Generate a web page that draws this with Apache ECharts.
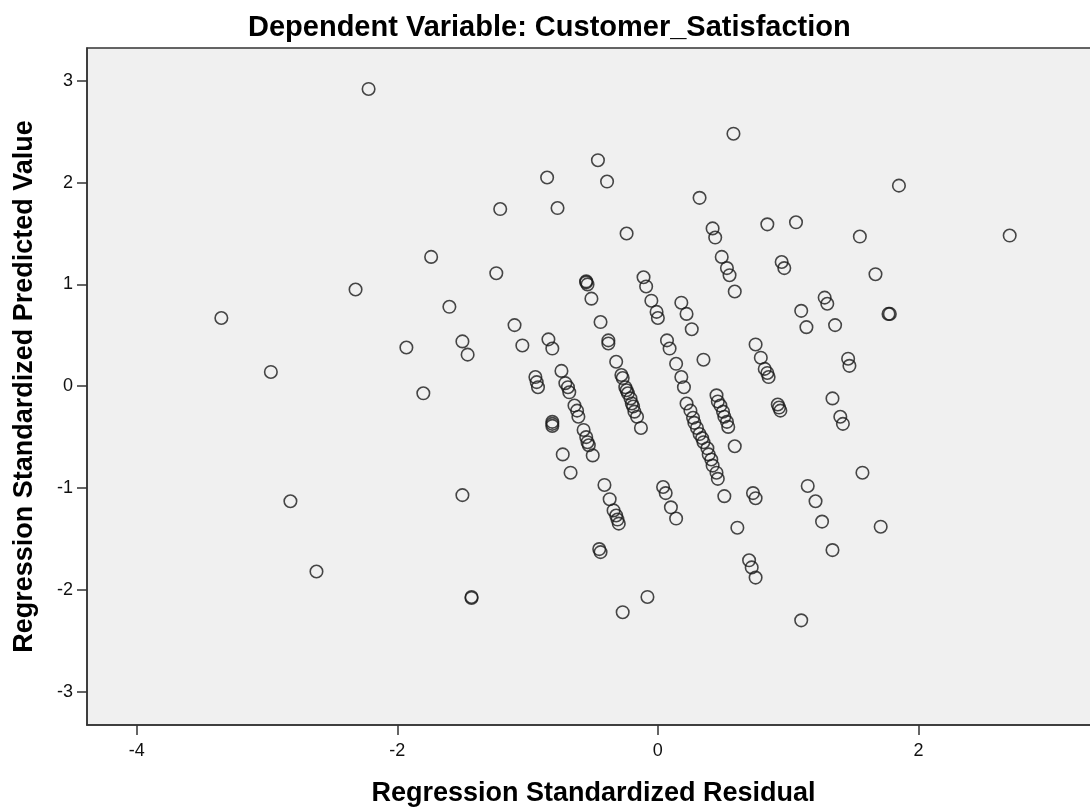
<!DOCTYPE html>
<html>
<head>
<meta charset="utf-8">
<script src="https://cdn.jsdelivr.net/npm/echarts@6/dist/echarts.min.js"></script>
<style>
html,body{margin:0;padding:0;background:#fff;}
#chart{width:1090px;height:807px;}
</style>
</head>
<body>
<div id="chart"></div>
<script>
// Regression Standardized Residual (x) and Regression Standardized Predicted Value (y)
var residual = [
  -3.35,-2.97,-2.82,-2.62,-2.32,-2.22,-1.93,-1.80,-1.74,-1.60,-1.50,-1.46,-1.50,-1.43,-1.43,-1.24,-1.21,-1.10,-1.04,-0.85,-0.77,-0.46,-0.39,-0.24,
  -0.94,-0.93,-0.92,-0.81,-0.81,-0.81,-0.73,-0.67,-0.45,-0.44,-0.27,
  -0.84,-0.81,-0.74,-0.71,-0.69,-0.68,-0.64,-0.62,-0.61,-0.57,-0.55,-0.54,-0.53,-0.50,-0.41,-0.37,-0.34,-0.32,-0.31,-0.30,
  -0.55,-0.54,-0.55,-0.51,-0.44,-0.38,-0.38,-0.32,-0.28,-0.27,-0.25,-0.24,-0.23,-0.21,-0.20,-0.19,-0.18,-0.16,-0.13,0.04,0.06,0.10,0.14,-0.08,
  -0.11,-0.09,-0.05,-0.01,0.00,0.07,0.09,0.14,0.18,0.20,0.22,0.25,0.27,0.28,0.30,0.32,0.34,0.35,0.38,0.39,0.41,0.42,0.45,0.46,0.51,0.61,0.70,0.72,0.75,
  0.32,0.42,0.44,0.49,0.53,0.55,0.59,0.75,0.79,0.82,0.84,0.85,0.92,0.93,0.94,
  0.18,0.22,0.26,0.35,0.45,0.46,0.48,0.50,0.51,0.53,0.54,0.59,0.73,0.75,
  0.58,0.84,0.95,0.97,1.10,1.14,1.34,1.40,1.42,1.57,1.71,
  1.06,1.28,1.30,1.36,1.46,1.47,
  1.55,1.67,1.77,1.78,1.85,2.70,
  1.15,1.21,1.26,1.34,1.10
];
var predicted = [
  0.67,0.14,-1.13,-1.82,0.95,2.92,0.38,-0.07,1.27,0.78,0.44,0.31,-1.07,-2.07,-2.08,1.11,1.74,0.60,0.40,2.05,1.75,2.22,2.01,1.50,
  0.09,0.04,-0.01,-0.35,-0.37,-0.39,-0.67,-0.85,-1.60,-1.63,-2.22,
  0.46,0.37,0.15,0.03,-0.01,-0.06,-0.19,-0.24,-0.30,-0.43,-0.50,-0.55,-0.58,-0.68,-0.97,-1.11,-1.22,-1.27,-1.31,-1.35,
  1.03,1.00,1.02,0.86,0.63,0.45,0.42,0.24,0.11,0.08,-0.01,-0.04,-0.07,-0.12,-0.17,-0.20,-0.25,-0.30,-0.41,-0.99,-1.05,-1.19,-1.30,-2.07,
  1.07,0.98,0.84,0.73,0.67,0.45,0.37,0.22,0.09,-0.01,-0.17,-0.24,-0.31,-0.36,-0.41,-0.47,-0.51,-0.55,-0.61,-0.67,-0.72,-0.78,-0.85,-0.91,-1.08,-1.39,-1.71,-1.78,-1.88,
  1.85,1.55,1.46,1.27,1.16,1.09,0.93,0.41,0.28,0.17,0.13,0.09,-0.18,-0.21,-0.24,
  0.82,0.71,0.56,0.26,-0.09,-0.15,-0.19,-0.25,-0.30,-0.35,-0.40,-0.59,-1.05,-1.10,
  2.48,1.59,1.22,1.16,0.74,0.58,-0.12,-0.30,-0.37,-0.85,-1.38,
  1.61,0.87,0.81,0.60,0.27,0.20,
  1.47,1.10,0.71,0.71,1.97,1.48,
  -0.98,-1.13,-1.33,-1.61,-2.30
];
var xTicks = [-4, -2, 0, 2];
var yTicks = [-3, -2, -1, 0, 1, 2, 3];
var chartTitle = 'Dependent Variable: Customer_Satisfaction';
var xName = 'Regression Standardized Residual';
var yName = 'Regression Standardized Predicted Value';

var points = residual.map(function (r, i) { return [r, predicted[i]]; });
var FONT = 'Arial, "Liberation Sans", sans-serif';

var chart = echarts.init(document.getElementById('chart'), null, {renderer: 'canvas'});
chart.setOption({
  animation: false,
  backgroundColor: '#ffffff',
  title: {
    text: chartTitle,
    left: 243,
    top: 8,
    textStyle: {fontFamily: FONT, fontSize: 29, fontWeight: 'bold', color: '#000'}
  },
  grid: {
    left: 87, top: 48, right: -10, bottom: 82,
    outerBoundsMode: 'none',
    containLabel: false,
    show: true, backgroundColor: '#f0f0f0', borderColor: '#333', borderWidth: 1.5
  },
  xAxis: {
    type: 'value', min: -4.381, max: 3.393,
    name: xName, nameLocation: 'middle', nameGap: 55,
    nameTextStyle: {fontFamily: FONT, fontSize: 27, fontWeight: 'bold', color: '#000'},
    axisLine: {show: true, onZero: false, lineStyle: {color: '#333', width: 1.5}},
    axisTick: {show: true, inside: false, length: 10, customValues: xTicks, lineStyle: {color: '#333', width: 1.5}},
    axisLabel: {customValues: xTicks, margin: 17, fontFamily: FONT, fontSize: 18, color: '#111'},
    splitLine: {show: false}
  },
  yAxis: {
    type: 'value', min: -3.328, max: 3.322,
    name: yName, nameLocation: 'middle', nameGap: 49, nameRotate: 90,
    nameTextStyle: {fontFamily: FONT, fontSize: 27, fontWeight: 'bold', color: '#000'},
    axisLine: {show: true, onZero: false, lineStyle: {color: '#333', width: 1.5}},
    axisTick: {show: true, inside: false, length: 10, customValues: yTicks, lineStyle: {color: '#333', width: 1.5}},
    axisLabel: {customValues: yTicks, margin: 14, fontFamily: FONT, fontSize: 18, color: '#111'},
    splitLine: {show: false}
  },
  series: [{
    type: 'scatter',
    data: points,
    symbol: 'circle',
    symbolSize: 12.5,
    itemStyle: {color: 'rgba(0,0,0,0)', borderColor: '#1a1a1a', borderWidth: 1.6},
    emphasis: {disabled: true},
    silent: true
  }]
});
</script>
</body>
</html>
